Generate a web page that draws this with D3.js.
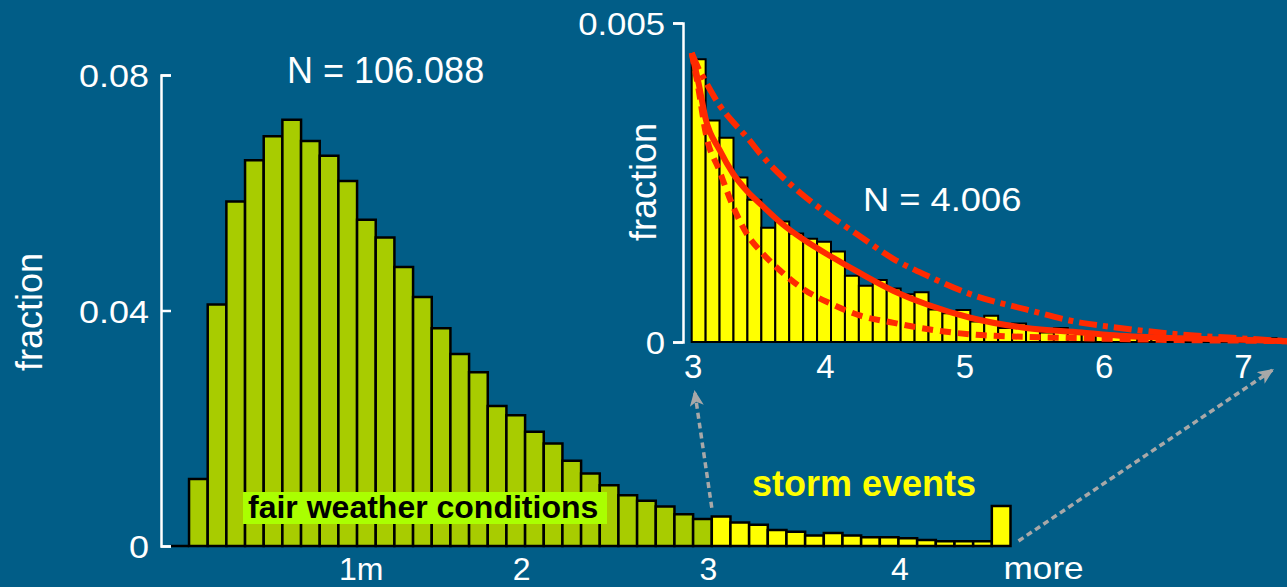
<!DOCTYPE html>
<html lang="en">
<head>
<meta charset="UTF-8">
<title>Wave height histogram</title>
<style>
  body { margin: 0; background: #015d87; }
  svg { display: block; font-family: "Liberation Sans", Arial, sans-serif; }
  .bar { stroke: #000; stroke-width: 2.5px; stroke-linejoin: miter; }
  .tbar { stroke: #000; stroke-width: 2px; }
  .axis path, .axis line { stroke: #fff; stroke-width: 2.5px; fill: none; }
  .axis text { fill: #fff; }
  .fit { fill: none; stroke: #ff2a00; stroke-width: 6px; }
</style>
</head>
<body>
<script src="https://d3js.org/d3.v7.min.js"></script>
<script>
// main histogram: 0.1 m bins, first bin starts at 0.1
var fairStart = 0.1;
var fairValues = [0, 0.0114, 0.0410, 0.0585, 0.0655, 0.0696, 0.0724, 0.0688, 0.0663, 0.0620,
  0.0554, 0.0524, 0.0474, 0.0423, 0.0370, 0.0326, 0.0295, 0.0238, 0.0222, 0.0194,
  0.0174, 0.0145, 0.0123, 0.0103, 0.0086, 0.0077, 0.0067, 0.0054, 0.0046];
var stormStart = 3.0;
var stormValues = [0.0050, 0.0040, 0.0036, 0.0027, 0.0024, 0.0018, 0.0022, 0.0018, 0.0015, 0.0015,
  0.0013, 0.0010, 0.0008, 0.0008, 0.0008];
var moreValue = 0.0068;
var mainTicksY = [0, 0.04, 0.08];
var mainTicksX = [1, 2, 3, 4];

// inset: storm tail, 0.1 m bins from 3.0
var tailStart = 3.0;
var tailValues = [0.00443, 0.00347, 0.00320, 0.00258, 0.00223, 0.00179, 0.00189, 0.00170, 0.00162, 0.00157,
  0.00142, 0.00104, 0.00088, 0.00097, 0.00084, 0.00075, 0.00078, 0.00051, 0.00045, 0.00050,
  0.00032, 0.00041, 0.00022, 0.00029, 0.00019, 0.00015, 0.00022, 0.00015, 0.00014, 0.00012,
  0.00012, 0.00010, 0.00008, 0.00009, 0.00006, 0.00005, 0.00006, 0.00004, 0.00005, 0.00003,
  0.00003, 0.00006, 0.00003];
var fitX      = [3.0, 3.05, 3.1, 3.2, 3.3, 3.4, 3.5, 3.65, 3.8, 4.0, 4.2, 4.45, 4.7, 5.0, 5.4, 5.8, 6.0, 6.5, 7.0, 7.3];
var fitSolid  = [0.00453, 0.00405, 0.00350, 0.00301, 0.00263, 0.00236, 0.00215, 0.00185, 0.00161, 0.00134,
  0.00109, 0.00080, 0.00058, 0.00038, 0.00022, 0.00015, 0.00011, 0.00006, 0.00003, 0.00001];
var fitDashed = [0.00453, 0.00395, 0.00328, 0.00268, 0.00211, 0.00168, 0.00141, 0.00109, 0.00083, 0.00060,
  0.00042, 0.00030, 0.00020, 0.00012, 0.00008, 0.00006, 0.00005, 0.00003, 0.00002, 0.00001];
var fitDashDot = [0.00453, 0.00428, 0.00408, 0.00371, 0.00344, 0.00320, 0.00293, 0.00259, 0.00230, 0.00197,
  0.00167, 0.00130, 0.00103, 0.00075, 0.00051, 0.00030, 0.00024, 0.00012, 0.00005, 0.00001];
var tailTicksY = [0, 0.005];
var tailTicksX = [3, 4, 5, 6, 7];

var W = 1287, H = 587, bw = 0.1;

function stretch(sel, k) {
  sel.each(function () {
    var w = this.getComputedTextLength();
    d3.select(this).attr("textLength", w * k).attr("lengthAdjust", "spacingAndGlyphs");
  });
}

var svg = d3.select("body").append("svg").attr("width", W).attr("height", H);
svg.append("rect").attr("width", W).attr("height", H).attr("fill", "#015d87");

var defs = svg.append("defs");
defs.append("marker").attr("id", "head")
  .attr("viewBox", "0 0 16 14").attr("refX", 16).attr("refY", 7)
  .attr("markerWidth", 16).attr("markerHeight", 14)
  .attr("markerUnits", "userSpaceOnUse").attr("orient", "auto")
  .append("path").attr("d", "M0,0 L16,7 L0,14 L4,7 Z").attr("fill", "#a8a8a8");

// ---------- main chart ----------
var x = d3.scaleLinear().domain([0, 4.6]).range([151.7, 1010.5]);
var y = d3.scaleLinear().domain([0, 0.08]).range([546, 75]);

var mainBars = [];
fairValues.forEach(function (v, i) { mainBars.push({ x0: +(fairStart + i * bw).toFixed(1), v: v, c: "#a8cc00" }); });
stormValues.forEach(function (v, i) { mainBars.push({ x0: +(stormStart + i * bw).toFixed(1), v: v, c: "#ffff00" }); });
mainBars.push({ x0: 4.5, v: moreValue, c: "#ffff00" });

svg.append("g").selectAll("path").data(mainBars).enter().append("path")
  .attr("class", "bar")
  .attr("fill", function (d) { return d.c; })
  .attr("d", function (d) {
    return "M" + x(d.x0) + "," + y(0) + "V" + y(d.v) + "H" + x(d.x0 + bw) + "V" + y(0) + "Z";
  });

var yAx = svg.append("g").attr("class", "axis").attr("transform", "translate(161,0)")
  .call(d3.axisRight(y).tickValues(mainTicksY).tickSize(10)
    .tickFormat(function (d) { return d === 0 ? "0" : d3.format(".2f")(d); }));
yAx.selectAll("text").attr("x", -12).attr("dy", "0.38em").attr("text-anchor", "end")
  .style("font-size", "31px").call(stretch, 1.16);

var xAx = svg.append("g").attr("class", "axis").attr("transform", "translate(0," + y(0) + ")")
  .call(d3.axisBottom(x).tickValues(mainTicksX).tickSize(0)
    .tickFormat(function (d) { return d === 1 ? "1m" : d; }));
xAx.select(".domain").remove();
xAx.selectAll("text").attr("y", 11).attr("dx", function (d) { return d < 4 ? -4 : 1; })
  .style("font-size", "32px")
  .filter(function (d) { return d === 1; }).attr("text-anchor", "start").attr("dx", 0);

svg.append("text").attr("x", x(4.6) - 7).attr("y", 579).attr("fill", "#fff")
  .style("font-size", "32px").text("more").call(stretch, 1.1);

svg.append("text").attr("transform", "translate(42,312) rotate(-90)")
  .attr("text-anchor", "middle").attr("fill", "#fff").style("font-size", "36px").text("fraction");

svg.append("text").attr("x", 287).attr("y", 83).attr("fill", "#fff")
  .style("font-size", "36px").text("N = 106.088");

svg.append("rect").attr("x", 243).attr("y", 492).attr("width", 364).attr("height", 32).attr("fill", "#aaff00");
svg.append("text").attr("x", 248).attr("y", 518).attr("fill", "#000")
  .style("font-size", "32px").style("font-weight", "bold").text("fair weather conditions");

svg.append("text").attr("x", 752).attr("y", 496).attr("fill", "#ffff00")
  .style("font-size", "36px").style("font-weight", "bold").text("storm events");

// ---------- inset ----------
var xi = d3.scaleLinear().domain([3, 7.3]).range([691.7, 1290.7]);
var yi = d3.scaleLinear().domain([0, 0.005]).range([342, 23]);

svg.append("g").selectAll("path").data(tailValues).enter().append("path")
  .attr("class", "tbar").attr("fill", "#ffff00")
  .attr("d", function (v, i) {
    var x0 = tailStart + i * bw;
    return "M" + xi(x0) + "," + yi(0) + "V" + yi(v) + "H" + xi(x0 + bw) + "V" + yi(0) + "Z";
  });

var line = d3.line().x(function (d) { return xi(d[0]); }).y(function (d) { return yi(d[1]); })
  .curve(d3.curveMonotoneX);
[[fitDashDot, "18,6,5,6"], [fitDashed, "11,7"], [fitSolid, null]].forEach(function (f) {
  svg.append("path").attr("class", "fit")
    .attr("d", line(fitX.map(function (xv, i) { return [xv, f[0][i]]; })))
    .attr("stroke-dasharray", f[1]);
});

var yiAx = svg.append("g").attr("class", "axis").attr("transform", "translate(683,0)")
  .call(d3.axisLeft(yi).tickValues(tailTicksY).tickSize(10)
    .tickFormat(function (d) { return d === 0 ? "0" : "0.005"; }));
yiAx.selectAll("text").attr("x", -18).attr("dy", "0.38em")
  .style("font-size", "31px").call(stretch, 1.12);

var xiAx = svg.append("g").attr("class", "axis").attr("transform", "translate(0," + yi(0) + ")")
  .call(d3.axisBottom(xi).tickValues(tailTicksX).tickSize(0).tickFormat(d3.format("d")));
xiAx.select(".domain").remove();
xiAx.selectAll("text").attr("y", 13).attr("dx", function (d) { return d === 3 ? 1 : -6; })
  .style("font-size", "33px");

svg.append("text").attr("transform", "translate(656,182) rotate(-90)")
  .attr("text-anchor", "middle").attr("fill", "#fff").style("font-size", "36px").text("fraction");

svg.append("text").attr("x", 863).attr("y", 211).attr("fill", "#fff")
  .style("font-size", "33px").text("N = 4.006").call(stretch, 1.1);

// ---------- zoom arrows ----------
var arrows = [
  [[x(3.0), y(0.0065)], [xi(3.02), yi(0) + 48]],
  [[x(4.6) + 8, y(0) - 5], [xi(7.18), yi(0) + 27]]
];
svg.append("g").selectAll("line").data(arrows).enter().append("line")
  .attr("x1", function (d) { return d[0][0]; }).attr("y1", function (d) { return d[0][1]; })
  .attr("x2", function (d) { return d[1][0]; }).attr("y2", function (d) { return d[1][1]; })
  .attr("stroke", "#a8a8a8").attr("stroke-width", 3.5).attr("stroke-dasharray", "6,4")
  .attr("marker-end", "url(#head)");
</script>
</body>
</html>
